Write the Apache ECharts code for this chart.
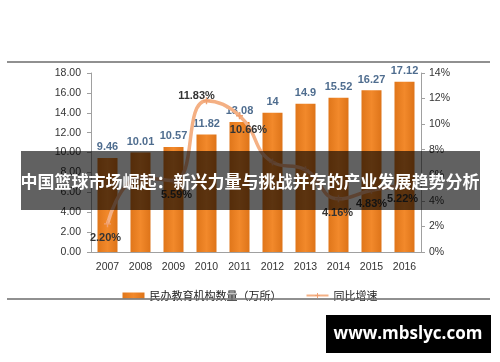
<!DOCTYPE html>
<html>
<head>
<meta charset="utf-8">
<script src="https://cdn.jsdelivr.net/npm/echarts@6/dist/echarts.min.js"></script>
<style>
html,body{margin:0;padding:0;background:#fff;}
#c{width:500px;height:362px;}
</style>
</head>
<body>
<div id="c"></div>
<script>
const categories = ['2007','2008','2009','2010','2011','2012','2013','2014','2015','2016'];
const institutions = [9.46, 10.01, 10.57, 11.82, 13.08, 14, 14.9, 15.52, 16.27, 17.12];
const growth = [2.20, 5.81, 5.59, 11.83, 10.66, 7.03, 6.43, 4.16, 4.83, 5.22];
const growthLabelShown = [true, false, true, true, true, false, false, true, true, true];
const leftTicks = [0, 2, 4, 6, 8, 10, 12, 14, 16, 18];
const rightTicks = [0, 2, 4, 6, 8, 10, 12, 14];
const barName = '民办教育机构数量（万所）';
const lineName = '同比增速';
const title = '中国篮球市场崛起：新兴力量与挑战并存的产业发展趋势分析';
const site = 'www.mbslyc.com';

const labelPlace = {
  '2007': {position: 'bottom', offset: [-2, 0]},
  '2009': {position: 'bottom', offset: [3, 0]},
  '2010': {position: 'top', offset: [-10, 9]},
  '2011': {position: 'bottom', offset: [9, 0]},
  '2014': {position: 'bottom', offset: [-1, 0]},
  '2015': {position: 'bottom', offset: [0, 0]},
  '2016': {position: 'bottom', offset: [-2, 0]}
};

const chart = echarts.init(document.getElementById('c'), null, {renderer: 'canvas'});
const font = 'Liberation Sans, Arial, sans-serif';
const plusPath = 'path://M0,4L10,4L10,6L0,6Z M4,0L6,0L6,10L4,10Z';

const lineData = growth.map((v, i) => {
  const p = labelPlace[categories[i]];
  return {
    value: v,
    label: growthLabelShown[i] ? {show: true, position: p.position, offset: p.offset} : {show: false}
  };
});

chart.setOption({
  animation: false,
  textStyle: {fontFamily: font},
  grid: {left: 91, right: 79, top: 73, bottom: 110},
  legend: {
    left: 'center',
    top: 285,
    itemGap: 24,
    itemWidth: 22,
    itemHeight: 6,
    textStyle: {fontSize: 11, color: '#222', fontFamily: 'Noto Sans CJK SC, sans-serif'},
    data: [
      {name: barName, icon: 'rect'},
      {name: lineName}
    ]
  },
  xAxis: {
    type: 'category',
    data: categories,
    axisLine: {lineStyle: {color: '#a0a0a0', width: 1}},
    axisTick: {show: false},
    axisLabel: {color: '#333', fontSize: 10.5, margin: 10}
  },
  yAxis: [
    {
      type: 'value', min: 0, max: 18, interval: 2,
      axisLine: {show: true, lineStyle: {color: '#a0a0a0'}},
      axisTick: {show: true, length: 4, lineStyle: {color: '#a0a0a0'}},
      splitLine: {show: false},
      axisLabel: {color: '#333', fontSize: 10.5, margin: 10,
        formatter: v => leftTicks.includes(v) ? v.toFixed(2) : ''}
    },
    {
      type: 'value', min: 0, max: 14, interval: 2, position: 'right',
      axisLine: {show: true, lineStyle: {color: '#a0a0a0'}},
      axisTick: {show: true, length: 4, lineStyle: {color: '#a0a0a0'}},
      splitLine: {show: false},
      axisLabel: {color: '#333', fontSize: 10.5, margin: 8,
        formatter: v => rightTicks.includes(v) ? v + '%' : ''}
    }
  ],
  series: [
    {
      name: barName,
      type: 'bar',
      data: institutions,
      barWidth: 20,
      itemStyle: {
        color: new echarts.graphic.LinearGradient(0, 0, 1, 0, [
          {offset: 0, color: '#e0761a'},
          {offset: 0.5, color: '#f2892b'},
          {offset: 1, color: '#de7419'}
        ])
      },
      label: {show: true, position: 'top', distance: 5, color: '#4f6d8f',
        fontSize: 11, fontWeight: 'bold', fontFamily: font}
    },
    {
      name: lineName,
      type: 'line',
      yAxisIndex: 1,
      data: lineData,
      smooth: 0.5,
      symbol: plusPath,
      symbolSize: 7,
      showSymbol: true,
      z: 5,
      lineStyle: {color: '#f4b084', width: 3.5},
      itemStyle: {color: '#f0a070'},
      label: {color: '#333', fontSize: 11, fontWeight: 'bold', distance: 5,
        fontFamily: font, formatter: p => p.value.toFixed(2) + '%'}
    }
  ],
  graphic: [
    {type: 'line', shape: {x1: 7, y1: 62, x2: 490, y2: 62},
      style: {stroke: '#6b6b6b', lineWidth: 1.5}, z: 10},
    {type: 'line', shape: {x1: 7, y1: 299, x2: 490, y2: 299},
      style: {stroke: '#6b6b6b', lineWidth: 1.5}, z: 10},
    {type: 'rect', shape: {x: 21, y: 151, width: 459, height: 59},
      style: {fill: 'rgba(0,0,0,0.62)'}, z: 100},
    {type: 'text', x: 250, y: 182, z: 101,
      style: {text: title, fill: '#fff', font: 'bold 17px "Noto Sans CJK SC", sans-serif',
        align: 'center', verticalAlign: 'middle'}},
    {type: 'rect', shape: {x: 326, y: 315, width: 165, height: 38},
      style: {fill: '#000'}, z: 100},
    {type: 'text', x: 408, y: 334, z: 101,
      style: {text: site, fill: '#fff', font: 'bold 17px "Open Sans", "DejaVu Sans", sans-serif',
        align: 'center', verticalAlign: 'middle'}}
  ]
});
</script>
</body>
</html>
